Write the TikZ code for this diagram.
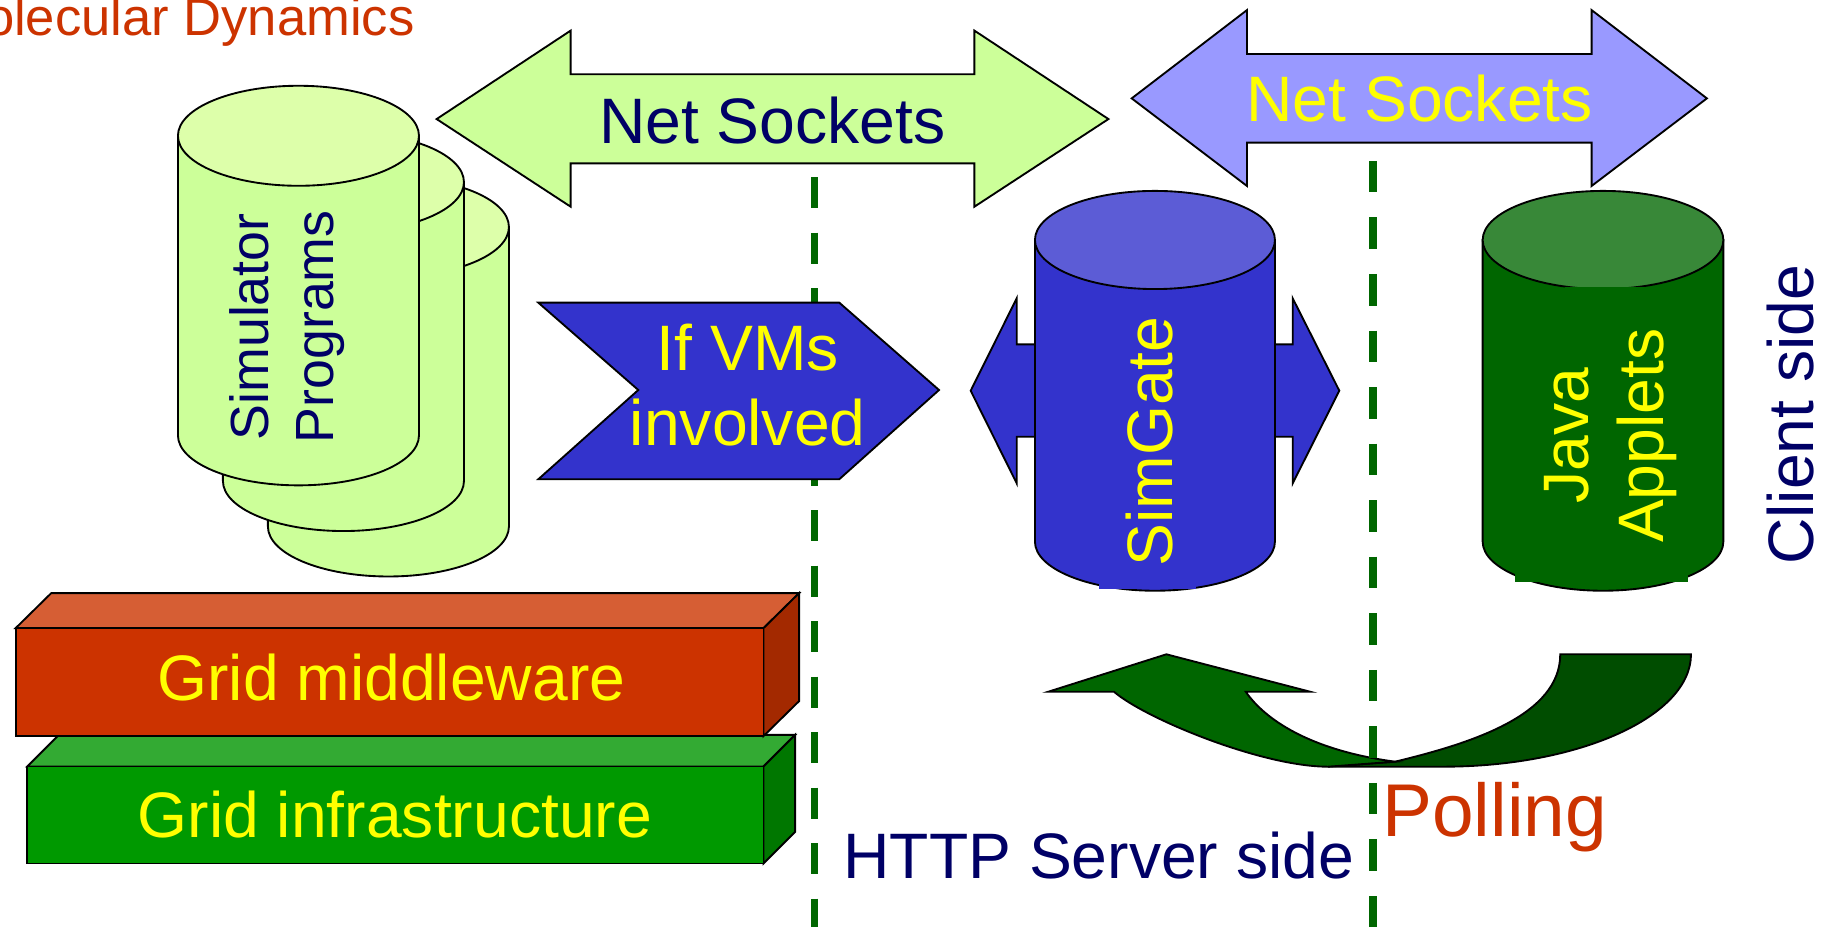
\documentclass[tikz,border=0pt]{standalone}
\usepackage{fontspec}
\setmainfont{Liberation Sans}

\definecolor{navy}{RGB}{0,0,102}
\definecolor{rust}{RGB}{204,51,0}
\definecolor{lime}{RGB}{204,255,153}
\definecolor{limetop}{RGB}{221,255,170}
\definecolor{lavender}{RGB}{153,153,255}
\definecolor{royal}{RGB}{51,51,204}
\definecolor{royaltop}{RGB}{92,92,214}
\definecolor{forest}{RGB}{0,102,0}
\definecolor{foresttop}{RGB}{56,136,56}
\definecolor{forestdark}{RGB}{0,77,0}
\definecolor{redtop}{RGB}{214,94,52}
\definecolor{redside}{RGB}{163,41,0}
\definecolor{grfront}{RGB}{0,153,0}
\definecolor{grtop}{RGB}{51,170,51}
\definecolor{grside}{RGB}{0,119,0}
\definecolor{sun}{RGB}{255,255,0}

% cylinder: centre x, top centre y, bottom centre y, x radius, y radius, body, top
\newcommand\drawcyl[7]{%
  \path[edge,fill=#6] (#1-#4,#2) -- (#1-#4,#3)
    arc[start angle=180,end angle=360,x radius=#4pt,y radius=#5pt]
    -- (#1+#4,#2) -- cycle;
  \path[edge,fill=#7] (#1,#2) ellipse[x radius=#4pt,y radius=#5pt];
}

\tikzset{
  edge/.style={draw=black,line width=1.6pt},
  txt/.style={inner sep=0pt,anchor=base},
  fs/.style={font=\fontsize{55}{64.2}\selectfont},
  divider/.style={draw=forest,line width=6.6pt,dash pattern=on 26.5pt off 21pt},
}

\begin{document}
\begin{tikzpicture}[x=1pt,y=-1pt]
\useasboundingbox (0,0) rectangle (1568,793);

% heading
\node[inner sep=0pt,anchor=base east,text=rust,font=\fontsize{45}{50}\selectfont]
  (title) at (355,30) {Molecular Dynamics};

% stacked simulator cylinders
\drawcyl{332.45}{194.3}{450.6}{103.15}{42.8}{lime}{limetop}
\drawcyl{293.95}{155.9}{411.7}{103.15}{42.8}{lime}{limetop}
\drawcyl{255.45}{116.2}{372.6}{103.15}{42.8}{lime}{limetop}
\node[txt,rotate=90,align=center,text=navy,font=\fontsize{46}{55.7}\selectfont]
  (sim) at (285.3,279.8) {Simulator\\Programs};

% grid layers
\path[edge,fill=grtop] (23.3,656) -- (50.3,629) -- (680.5,629) -- (653.5,656) -- cycle;
\path[edge,fill=grside] (653.5,656) -- (680.5,629) -- (680.5,712) -- (653.5,739) -- cycle;
\path[edge,fill=grfront] (23.3,656) rectangle (653.5,739);
\node[txt,fs,text=sun] (infra) at (338,717) {Grid infrastructure};

\path[edge,fill=redtop] (13.4,537.6) -- (43.9,507.6) -- (684,507.6) -- (653.5,537.6) -- cycle;
\path[edge,fill=redside] (653.5,537.6) -- (684,507.6) -- (684,600) -- (653.5,630) -- cycle;
\path[edge,fill=rust] (13.4,537.6) rectangle (653.5,630);
\node[txt,fs,text=sun] (middle) at (335,599.7) {Grid middleware};

% curved polling arrow
\path[edge,fill=forestdark] (1194,651.9) .. controls (1260,636) and (1335.4,612) .. (1335.4,560)
  -- (1447.3,560) .. controls (1447.3,613) and (1352,656.2) .. (1235,656.2)
  -- (1136.6,656.2) -- cycle;
\path[edge,fill=forest] (897.3,592) -- (998.3,560) -- (1121.2,592) -- (1066.2,592)
  .. controls (1082,615) and (1120,642) .. (1194,651.9)
  -- (1136.6,656.2) .. controls (1080,656.2) and (980,615) .. (953.4,592) -- cycle;

% server / client dividers
\coordinate (d1top) at (697,151.7);
\coordinate (d1bot) at (697,800);
\coordinate (d2top) at (1175.4,137.7);
\coordinate (d2bot) at (1175.4,800);
\draw[divider] (d1top) -- (d1bot);
\draw[divider,dash pattern=on 27pt off 21.4pt] (d2top) -- (d2bot);

% net socket arrows
\path[edge,fill=lime] (373.7,101.9) -- (488.4,26.2) -- (488.4,63.6) -- (834,63.6) -- (834,26.2)
  -- (948.7,101.9) -- (834,176.9) -- (834,139.8) -- (488.4,139.8) -- (488.4,176.9) -- cycle;
\node[txt,fs,text=navy] (ns1) at (661,122.7) {Net Sockets};

\path[edge,fill=lavender] (968.6,84.2) -- (1067.3,8.6) -- (1067.3,46.2) -- (1362.2,46.2) -- (1362.2,8.6)
  -- (1460.9,84.2) -- (1362.2,159.2) -- (1362.2,122.1) -- (1067.3,122.1) -- (1067.3,159.2) -- cycle;
\node[txt,fs,text=sun] (ns2) at (1215,104.1) {Net Sockets};

% VM chevron
\path[edge,fill=royal] (460.7,259) -- (718.3,259) -- (803.7,333.8) -- (718.3,410.2)
  -- (460.7,410.2) -- (546.3,333.8) -- cycle;
\node[txt,fs,align=center,text=sun] (vm) at (640,380.9) {If VMs\\involved};

% SimGate with its two-way arrow
\path[edge,fill=royal] (830.8,334.4) -- (870.2,255.3) -- (870.2,294.7) -- (1106.4,294.7) -- (1106.4,255.3)
  -- (1146.3,334.4) -- (1106.4,413.7) -- (1106.4,373.8) -- (870.2,373.8) -- (870.2,413.7) -- cycle;
\drawcyl{988.5}{205.4}{463.6}{102.7}{42}{royal}{royaltop}
\fill[royal] (940.3,470) rectangle (1023.6,504.4);
\node[txt,fs,rotate=90,text=sun] (gate) at (1003.7,378) {SimGate};

% applet cylinder
\drawcyl{1372}{205.4}{463.6}{103}{42}{forest}{foresttop}
\fill[forest] (1339.4,245.4) rectangle (1409.3,275);
\fill[forest] (1296.7,470) rectangle (1444.5,497.8);
\node[txt,fs,rotate=90,align=center,text=sun] (java) at (1423.6,373) {Java\\Applets};

% side captions
\node[txt,fs,rotate=90,text=navy] (client) at (1552,355) {Client side};
\node[inner sep=0pt,anchor=base west,fs,text=navy] (server) at (721.7,752.3) {HTTP Server side};
\node[inner sep=0pt,anchor=base west,text=rust,font=\fontsize{64}{70}\selectfont]
  (poll) at (1183,716) {Polling};
\end{tikzpicture}
\end{document}
